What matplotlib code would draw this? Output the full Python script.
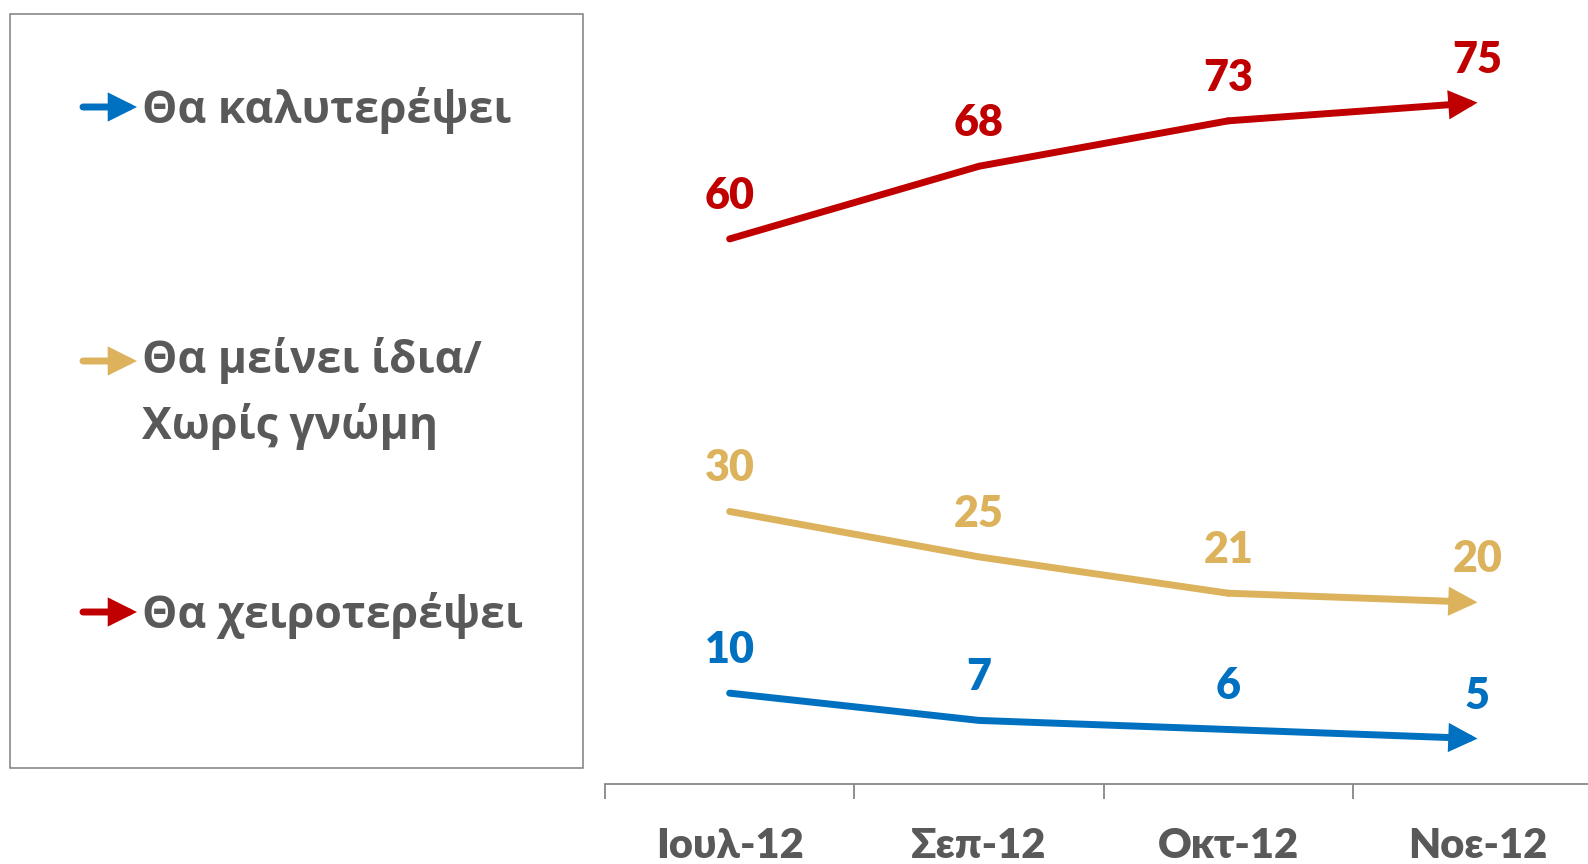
import numpy as np
import matplotlib
matplotlib.use('Agg')
import matplotlib.pyplot as plt
from matplotlib.patches import Rectangle, FancyArrowPatch

months = ['Ιουλ-12', 'Σεπ-12', 'Οκτ-12', 'Νοε-12']
better = [10, 7, 6, 5]
same = [30, 25, 21, 20]
worse = [60, 68, 73, 75]

legend_labels = ['Θα καλυτερέψει', 'Θα μείνει ίδια/\nΧωρίς γνώμη', 'Θα χειροτερέψει']
colors = ['#0070C0', '#DCB35C', '#C00000']
gray = '#595959'

W, H = 1588, 864
fig = plt.figure(figsize=(W / 100, H / 100), dpi=100)
ax = fig.add_axes([605 / W, 80 / H, 1 - 605 / W, 1 - 80 / H])

x = np.arange(len(months))
arrow_style = '-|>,head_length=0.5,head_width=0.25'

for vals, col in zip([better, same, worse], colors):
    ax.plot(x[:-1], vals[:-1], color=col, lw=5, solid_capstyle='round')
    ax.annotate('', xy=(x[-1], vals[-1]), xytext=(x[-2], vals[-2]),
                arrowprops=dict(arrowstyle=arrow_style, color=col, lw=5,
                                mutation_scale=26, shrinkA=0, shrinkB=0,
                                joinstyle='miter'))
    for xi, v in zip(x, vals):
        ax.annotate(str(v), (xi, v), xytext=(0, 31), textcoords='offset points',
                    ha='center', va='center', color=col, fontsize=31,
                    fontweight='heavy', family=['Lato', 'DejaVu Sans'])

ax.set_xlim(-0.5, 3.443)
ax.set_ylim(0, 86.3)
for s in ['top', 'right', 'left']:
    ax.spines[s].set_visible(False)
ax.spines['bottom'].set_color('#878787')
ax.spines['bottom'].set_linewidth(1.3)
ax.set_yticks([])
ax.set_xticks(x)
ax.set_xticklabels(months, fontsize=30, fontweight='heavy', color=gray,
                   family=['Lato', 'Open Sans', 'DejaVu Sans'])
ax.tick_params(axis='x', which='major', length=0, pad=31)
ax.set_xticks([-0.5, 0.5, 1.5, 2.5], minor=True)
ax.tick_params(axis='x', which='minor', length=11, width=1.3, color='#878787')

# legend box
fig.patches.append(Rectangle((10 / W, 1 - 768 / H), 573 / W, 754 / H,
                             transform=fig.transFigure, fill=False,
                             edgecolor='#7f7f7f', lw=1.1))

arrow_y = [107, 361, 612]
text_base = [123, 373, 628]
for lab, col, ay, tb in zip(legend_labels, colors, arrow_y, text_base):
    fig.add_artist(FancyArrowPatch(
        (83 / W, 1 - ay / H), (137 / W, 1 - ay / H), transform=fig.transFigure,
        arrowstyle=arrow_style, color=col, lw=5, mutation_scale=26,
        shrinkA=0, shrinkB=0, capstyle='round', joinstyle='miter'))
    lines = lab.split('\n')
    for i, line in enumerate(lines):
        fig.text(142 / W, 1 - (tb + 66 * i) / H, line, fontsize=32, fontweight='bold',
                 color=gray, family=['Open Sans', 'DejaVu Sans'], va='baseline')

fig.savefig('out.png', dpi=100)
